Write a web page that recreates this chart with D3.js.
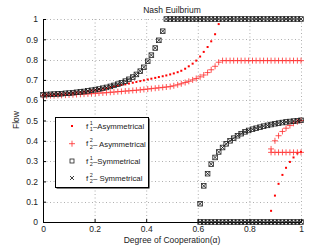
<!DOCTYPE html>
<html><head><meta charset="utf-8">
<script src="https://cdn.jsdelivr.net/npm/d3@7"></script>
<style>body{margin:0;background:#fff}svg{display:block;font-family:"Liberation Sans",Arial,sans-serif}</style>
</head><body><svg id="c" width="332" height="250"></svg>
<script>
const alpha=[0,0.014,0.029,0.043,0.058,0.072,0.087,0.101,0.116,0.130,0.145,0.159,0.174,0.188,0.203,0.217,0.232,0.246,0.261,0.275,0.290,0.304,0.319,0.333,0.348,0.362,0.377,0.391,0.406,0.420,0.435,0.449,0.464,0.478,0.493,0.507,0.522,0.536,0.551,0.565,0.580,0.594,0.609,0.623,0.638,0.652,0.667,0.681,0.696,0.710,0.725,0.739,0.754,0.768,0.783,0.797,0.812,0.826,0.841,0.855,0.870,0.884,0.899,0.913,0.928,0.942,0.957,0.971,0.986,1];
const N=null;
// f_2^1 / f_2^2 symmetrical (identical)
const symUpper=[0.627,0.628,0.629,0.630,0.631,0.632,0.634,0.635,0.637,0.639,
0.641,0.643,0.646,0.649,0.652,0.655,0.659,0.663,0.668,0.673,
0.679,0.686,0.694,0.703,0.714,0.727,0.743,0.762,0.792,0.822,
0.857,0.895,0.94,1,1,1,1,1,1,1,
1,1,1,1,1,1,1,1,1,1,
1,1,1,1,1,1,1,1,1,1,
1,1,1,1,1,1,1,1,1,1];
const symRise=[N,N,N,N,N,N,N,N,N,N,N,N,N,N,N,N,N,N,N,N,N,N,N,N,N,N,N,N,N,N,N,N,N,N,N,N,N,N,N,N,N,N,
0.09,0.178,0.238,0.285,0.318,0.345,0.367,0.385,
0.400,0.413,0.425,0.435,0.444,0.451,0.457,0.462,0.467,0.472,
0.476,0.480,0.484,0.487,0.490,0.493,0.495,0.497,0.499,0.501];
const symZero=[N,N,N,N,N,N,N,N,N,N,N,N,N,N,N,N,N,N,N,N,N,N,N,N,N,N,N,N,N,N,N,N,N,N,N,N,N,N,N,N,N,N,
0,0,0,0,0,0,0,0,0,0,0,0,0,0,0,0,0,0,0,0,0,0,0,0,0,0,0,0];
// f_1^1 asymmetrical
const asym1Upper=[0.625,0.626,0.627,0.628,0.629,0.630,0.632,0.634,0.636,0.638,
0.640,0.642,0.645,0.648,0.651,0.654,0.657,0.660,0.664,0.667,
0.671,0.675,0.678,0.682,0.686,0.690,0.694,0.698,0.702,0.706,
0.710,0.714,0.718,0.722,0.727,0.732,0.738,0.745,0.755,0.767,
0.780,0.795,0.815,0.838,0.862,0.890,0.925,0.975,N,N,
N,N,N,N,N,N,N,N,N,N,N,N,N,N,N,N,N,N,N,N];
const asym1Lower=[N,N,N,N,N,N,N,N,N,N,N,N,N,N,N,N,N,N,N,N,N,N,N,N,N,N,N,N,N,N,
N,N,N,N,N,N,N,N,N,N,N,N,N,N,N,N,N,N,N,N,N,N,N,N,N,N,N,N,N,N,N,
0.055,0.13,0.188,0.232,0.267,0.296,0.318,0.338,0.345];
// f_2^2 asymmetrical
const asym2Upper=[0.622,0.622,0.623,0.623,0.624,0.624,0.625,0.626,0.627,0.628,
0.629,0.630,0.631,0.632,0.634,0.635,0.636,0.637,0.639,0.640,
0.642,0.643,0.645,0.646,0.648,0.649,0.651,0.653,0.655,0.657,
0.659,0.661,0.663,0.665,0.667,0.671,0.676,0.681,0.687,0.693,
0.700,0.707,0.715,0.724,0.736,0.750,0.767,0.787,0.795,0.795,
0.795,0.795,0.795,0.795,0.795,0.795,0.795,0.795,0.795,0.795,
0.795,0.795,0.795,0.795,0.795,0.795,0.795,0.795,0.795,0.795];
const asym2Flat=[N,N,N,N,N,N,N,N,N,N,N,N,N,N,N,N,N,N,N,N,N,N,N,N,N,N,N,N,N,N,
N,N,N,N,N,N,N,N,N,N,N,N,N,N,N,N,N,N,N,N,N,N,N,N,N,N,N,N,N,N,N,
0.343,0.343,0.343,0.343,0.343,0.343,0.343,0.343,0.343];
const asym2Rise=[N,N,N,N,N,N,N,N,N,N,N,N,N,N,N,N,N,N,N,N,N,N,N,N,N,N,N,N,N,N,
N,N,N,N,N,N,N,N,N,N,N,N,N,N,N,N,N,N,N,N,N,N,N,N,N,N,N,N,N,N,N,
0.36,0.40,0.425,0.446,0.462,0.475,0.486,0.494,0.5];
const xTicks=[0,0.2,0.4,0.6,0.8,1];
const yTicks=[0,0.1,0.2,0.3,0.4,0.5,0.6,0.7,0.8,0.9,1];
const legendLabels=[
 {sub:"1",sup:"1",txt:"\u2013Asymmetrical"},
 {sub:"2",sup:"2",txt:"\u2013 Asymmetrical"},
 {sub:"2",sup:"1",txt:"\u2013Symmetrical"},
 {sub:"2",sup:"2",txt:"\u2013 Symmetrical"}];

const svg=d3.select("#c");
const L=43,R=301,T=19,B=222;
const x=d3.scaleLinear().domain([0,1]).range([L,R]);
const y=d3.scaleLinear().domain([0,1]).range([B,T]);

// grid
const g=svg.append("g");
g.selectAll("line.gx").data(xTicks.filter(d=>d>0)).join("line")
 .attr("x1",d=>x(d)+0.5).attr("x2",d=>x(d)+0.5).attr("y1",T).attr("y2",B)
 .attr("stroke","#9a9a9a").attr("stroke-width",0.8).attr("stroke-dasharray","1,2.5");
g.selectAll("line.gy").data(yTicks.filter(d=>d>0)).join("line")
 .attr("y1",d=>Math.round(y(d))+0.5).attr("y2",d=>Math.round(y(d))+0.5).attr("x1",L).attr("x2",R)
 .attr("stroke","#9a9a9a").attr("stroke-width",0.8).attr("stroke-dasharray","1,2.5");

// axes
const ax=svg.append("g").attr("transform",`translate(0,${B})`)
 .call(d3.axisBottom(x).tickValues(xTicks).tickFormat(d3.format("")).tickSizeInner(-3).tickSizeOuter(0).tickPadding(3.5));
const ay=svg.append("g").attr("transform",`translate(${L},0)`)
 .call(d3.axisLeft(y).tickValues(yTicks).tickFormat(d3.format("")).tickSizeInner(-3).tickSizeOuter(0).tickPadding(5));
[ax,ay].forEach(a=>{a.selectAll("text").attr("font-size",8.5).attr("fill","#222").attr("font-family","Liberation Sans, Arial, sans-serif");
 a.select(".domain").attr("stroke","#000");a.selectAll(".tick line").attr("stroke","#000");});

function pts(arr){return alpha.map((a,i)=>({a,v:arr[i]})).filter(d=>d.v!==null);}
const plot=svg.append("g");
function squares(arr){plot.append("g").selectAll("rect").data(pts(arr)).join("rect")
 .attr("x",d=>x(d.a)-2.3).attr("y",d=>y(d.v)-2.3).attr("width",4.6).attr("height",4.6)
 .attr("fill","none").attr("stroke","#222").attr("stroke-width",0.8);}
function crosses(arr){plot.append("g").selectAll("path").data(pts(arr)).join("path")
 .attr("d",d=>{const cx=x(d.a),cy=y(d.v),s=2;return `M${cx-s},${cy-s}L${cx+s},${cy+s}M${cx-s},${cy+s}L${cx+s},${cy-s}`;})
 .attr("stroke","#111").attr("stroke-width",0.8);}
function pluses(arr){plot.append("g").selectAll("path").data(pts(arr)).join("path")
 .attr("d",d=>{const cx=x(d.a),cy=y(d.v),s=3;return `M${cx-s},${cy}L${cx+s},${cy}M${cx},${cy-s}L${cx},${cy+s}`;})
 .attr("stroke","#ff2a2a").attr("stroke-opacity",0.8).attr("stroke-width",1);}
function dots(arr){plot.append("g").selectAll("rect").data(pts(arr)).join("rect")
 .attr("x",d=>x(d.a)-1).attr("y",d=>y(d.v)-1).attr("width",2).attr("height",2).attr("fill","#f00");}

dots(asym1Upper);dots(asym1Lower);
pluses(asym2Upper);pluses(asym2Flat);pluses(asym2Rise);
squares(symUpper);squares(symRise);squares(symZero);
crosses(symUpper);crosses(symRise);crosses(symZero);

// title and labels
svg.append("text").attr("x",172).attr("y",13).attr("text-anchor","middle").attr("font-size",8.5).attr("fill","#222").text("Nash Euilbrium");
svg.append("text").attr("x",172).attr("y",243).attr("text-anchor","middle").attr("font-size",8.5).attr("fill","#222").text("Degree of Cooperation(\u03b1)");
svg.append("text").attr("transform","translate(19,120) rotate(-90)").attr("text-anchor","middle").attr("font-size",8.5).attr("fill","#222").text("Flow");

// legend
const lg=svg.append("g");
const lx=55,ly=117,lw=93,lh=70;
lg.append("rect").attr("x",lx+1.5).attr("y",ly+1.5).attr("width",lw).attr("height",lh).attr("fill","#000");
lg.append("rect").attr("x",lx+0.5).attr("y",ly+0.5).attr("width",lw).attr("height",lh).attr("fill","#fff").attr("stroke","#000").attr("stroke-width",1);
const rows=[126,143.7,161,178];
const mx=72;
lg.append("rect").attr("x",mx-1).attr("y",rows[0]-1).attr("width",2).attr("height",2).attr("fill","#f00");
lg.append("path").attr("d",`M${mx-3},${rows[1]}L${mx+3},${rows[1]}M${mx},${rows[1]-3}L${mx},${rows[1]+3}`).attr("stroke","#ff2a2a").attr("stroke-opacity",0.8);
lg.append("rect").attr("x",mx-2).attr("y",rows[2]-2).attr("width",4).attr("height",4).attr("fill","none").attr("stroke","#222").attr("stroke-width",0.8);
lg.append("path").attr("d",`M${mx-2},${rows[3]-2}L${mx+2},${rows[3]+2}M${mx-2},${rows[3]+2}L${mx+2},${rows[3]-2}`).attr("stroke","#111").attr("stroke-width",0.8);
legendLabels.forEach((l,i)=>{
 const yy=rows[i]+3;
 lg.append("text").attr("x",86).attr("y",yy-0.5).attr("font-size",8).attr("fill","#222").text("f");
 lg.append("text").attr("x",89.8).attr("y",yy-4.5).attr("font-size",5.5).attr("fill","#222").text(l.sup);
 lg.append("text").attr("x",89.8).attr("y",yy+2).attr("font-size",5.5).attr("fill","#222").text(l.sub);
 lg.append("text").attr("x",93).attr("y",yy).attr("font-size",7.8).attr("fill","#222").text(l.txt);
});
</script></body></html>
